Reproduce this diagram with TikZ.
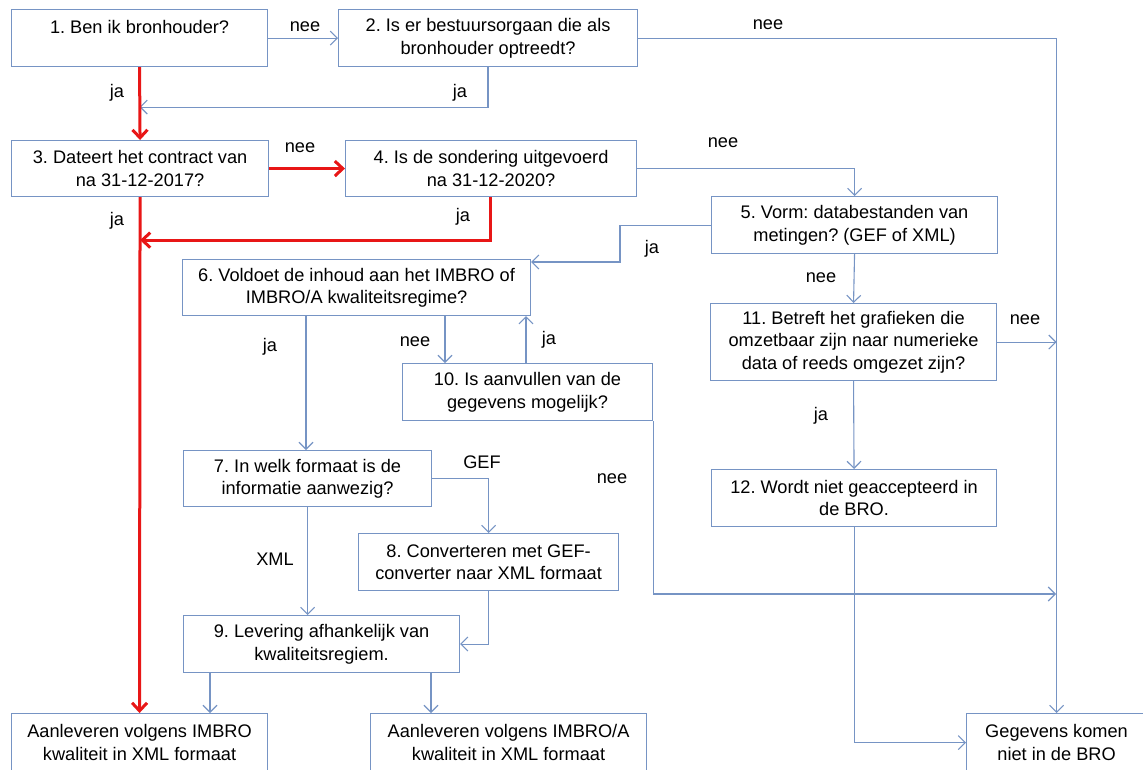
\documentclass[tikz,border=0pt]{standalone}
\usepackage{fontspec}
\setmainfont{Liberation Sans}
\usetikzlibrary{arrows.meta}
\definecolor{lineblue}{RGB}{118,148,196}
\definecolor{flowred}{RGB}{232,22,22}
\frenchspacing
\begin{document}
\begin{tikzpicture}[x=1pt,y=-1pt,
	box/.style={draw=lineblue,line width=1.1pt,anchor=north west,inner sep=0pt,align=center,font=\fontsize{18.2}{22.5}\selectfont},
	lbl/.style={font=\fontsize{18.2}{22.5}\selectfont,inner sep=0pt},
	flow/.style={draw=lineblue,line width=1.1pt,-{Straight Barb[length=7pt,width=14pt]}},
	main/.style={draw=flowred,line width=3pt,-{Straight Barb[length=8pt,width=15pt]}}]
	\useasboundingbox (0,0) rectangle (1143,769);
	\node[box,minimum width=256,minimum height=57] (q1) at (11,9) {1. Ben ik bronhouder?\\\mbox{}};
	\node[box,minimum width=299,minimum height=57] (q2) at (338,9) {2. Is er bestuursorgaan die als\\bronhouder optreedt?};
	\node[box,minimum width=257,minimum height=56] (q3) at (11,140) {3. Dateert het contract van\\na 31-12-2017?};
	\node[box,minimum width=291,minimum height=56] (q4) at (345,140) {4. Is de sondering uitgevoerd\\na 31-12-2020?};
	\node[box,minimum width=286,minimum height=57] (q5) at (711,196) {5. Vorm: databestanden van\\metingen? (GEF of XML)};
	\node[box,minimum width=348,minimum height=56] (q6) at (182,259) {6. Voldoet de inhoud aan het IMBRO of\\IMBRO/A kwaliteitsregime?};
	\node[box,minimum width=248,minimum height=56] (q7) at (183,450) {7. In welk formaat is de\\informatie aanwezig?};
	\node[box,minimum width=260,minimum height=57] (q8) at (358,533) {8. Converteren met GEF-\\converter naar XML formaat};
	\node[box,minimum width=276,minimum height=57] (q9) at (183,615) {9. Levering afhankelijk van\\kwaliteitsregiem.};
	\node[box,minimum width=250,minimum height=57] (q10) at (402,363) {10. Is aanvullen van de\\gegevens mogelijk?};
	\node[box,minimum width=286,minimum height=77] (q11) at (710,303) {11. Betreft het grafieken die\\omzetbaar zijn naar numerieke\\data of reeds omgezet zijn?};
	\node[box,minimum width=285,minimum height=57] (q12) at (711,469) {12. Wordt niet geaccepteerd in\\de BRO.};
	\node[box,minimum width=256,minimum height=58] (a1) at (11,713) {Aanleveren volgens IMBRO\\kwaliteit in XML formaat};
	\node[box,minimum width=276,minimum height=58] (a2) at (370,713) {Aanleveren volgens IMBRO/A\\kwaliteit in XML formaat};
	\node[box,minimum width=180,minimum height=58] (g) at (966,713) {Gegevens komen\\niet in de BRO};
	\coordinate (m10) at (1056,594);

	\draw[flow] (q1.east) -- (q2.west);
	\draw[flow] (q2.east) -| (g.north);
	\draw[flow] ([xshift=150pt]q2.south west) |- ([yshift=-40pt]q1.south);
	\draw[main] (q1.south) -- (q3.north);
	\draw[main] (q3.east) -- (q4.west);
	\draw[main] ([xshift=145pt]q4.south west) |- ([yshift=-43pt]q3.south);
	\draw[main] (q3.south) -- (a1.north);
	\draw[flow] (q4.east) -| (q5.north);
	\draw[flow] (q5.west) -- ++(-91,0) |- ([yshift=-3pt]q6.north east);
	\draw[flow] (q5.south) -- (q11.north);
	\draw[flow] (q11.east) -- (q11.east -| g.north);
	\draw[flow] (q11.south) -- (q12.north);
	\draw[flow] (q12.south) |- (g.west);
	\draw[flow] ([xshift=263pt]q6.south west) -- ([xshift=263pt]q6.south west |- q10.north);
	\draw[flow] ([xshift=124pt]q10.north west) -- ([xshift=124pt]q10.north west |- q6.south);
	\draw[flow] (q10.south east) |- (m10);
	\draw[flow] ([xshift=124pt]q6.south west) -- ([xshift=124pt]q6.south west |- q7.north);
	\draw[flow] (q7.east) -| (q8.north);
	\draw[flow] (q7.south) -- (q7.south |- q9.north);
	\draw[flow] (q8.south) |- (q9.east);
	\draw[flow] ([xshift=27pt]q9.south west) -- ([xshift=27pt]q9.south west |- a1.north);
	\draw[flow] ([xshift=248pt]q9.south west) -- ([xshift=248pt]q9.south west |- a2.north);

	\node[lbl] (n12) at (305,27) {nee};
	\node[lbl] (n2g) at (768,25) {nee};
	\node[lbl] (j2) at (460,93) {ja};
	\node[lbl] (j1) at (117,93) {ja};
	\node[lbl] (n34) at (300,148) {nee};
	\node[lbl] (j4) at (463,217) {ja};
	\node[lbl] (j3) at (117,221) {ja};
	\node[lbl] (n45) at (723,143) {nee};
	\node[lbl] (j5) at (652,249) {ja};
	\node[lbl] (n5) at (821,278) {nee};
	\node[lbl] (n11) at (1025,320) {nee};
	\node[lbl] (j11) at (821,416) {ja};
	\node[lbl] (n6) at (415,342) {nee};
	\node[lbl] (j10) at (549,340) {ja};
	\node[lbl] (n10) at (612,479) {nee};
	\node[lbl] (j6) at (270,347) {ja};
	\node[lbl] (gef) at (482,462) {GEF};
	\node[lbl] (xml) at (275,559) {XML};
\end{tikzpicture}
\end{document}
